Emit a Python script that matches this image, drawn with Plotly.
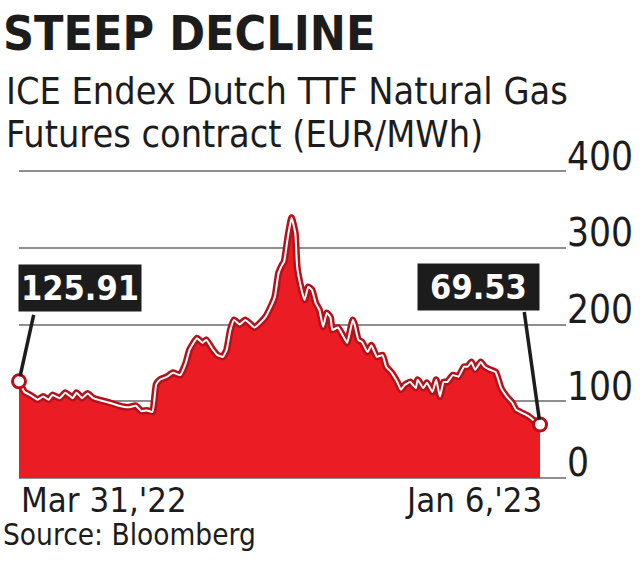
import plotly.graph_objects as go

# ---- data ----
dates = ["2022-03-31", "2022-04-03", "2022-04-06", "2022-04-10", "2022-04-13", "2022-04-16",
         "2022-04-18", "2022-04-22", "2022-04-25", "2022-04-29", "2022-05-01", "2022-05-04",
         "2022-05-07", "2022-05-10", "2022-05-14", "2022-05-19", "2022-05-24", "2022-05-29",
         "2022-06-02", "2022-06-05", "2022-06-08", "2022-06-11", "2022-06-13", "2022-06-15",
         "2022-06-19", "2022-06-22", "2022-06-26", "2022-06-29", "2022-07-01", "2022-07-05",
         "2022-07-08", "2022-07-10", "2022-07-13", "2022-07-16", "2022-07-19", "2022-07-21",
         "2022-07-23", "2022-07-25", "2022-07-28", "2022-07-31", "2022-08-03", "2022-08-05",
         "2022-08-08", "2022-08-11", "2022-08-13", "2022-08-16", "2022-08-18", "2022-08-20",
         "2022-08-21", "2022-08-23", "2022-08-25", "2022-08-27", "2022-08-28", "2022-08-30",
         "2022-09-01", "2022-09-03", "2022-09-05", "2022-09-07", "2022-09-09", "2022-09-11",
         "2022-09-13", "2022-09-15", "2022-09-16", "2022-09-19", "2022-09-22", "2022-09-24",
         "2022-09-27", "2022-09-28", "2022-09-30", "2022-10-02", "2022-10-05", "2022-10-07",
         "2022-10-10", "2022-10-13", "2022-10-15", "2022-10-18", "2022-10-21", "2022-10-23",
         "2022-10-25", "2022-10-28", "2022-10-31", "2022-11-01", "2022-11-04", "2022-11-06",
         "2022-11-09", "2022-11-11", "2022-11-13", "2022-11-15", "2022-11-17", "2022-11-20",
         "2022-11-23", "2022-11-26", "2022-11-28", "2022-11-30", "2022-12-02", "2022-12-05",
         "2022-12-07", "2022-12-10", "2022-12-13", "2022-12-14", "2022-12-16", "2022-12-19",
         "2022-12-22", "2022-12-24", "2022-12-27", "2022-12-31", "2023-01-02", "2023-01-06"]

prices = [125.91, 112, 108, 102, 106, 102,
          108, 104, 111, 104, 111, 104,
          110, 104, 101, 98, 94, 92,
          94, 87, 88, 86, 122, 128,
          132, 137, 134, 150, 167, 182,
          176, 180, 169, 160, 158, 167,
          193, 206, 200, 206, 200, 196,
          202, 210, 219, 236, 267, 278,
          282, 314, 339, 319, 275, 249,
          232, 249, 245, 228, 219, 197,
          215, 209, 193, 196, 184, 176,
          206, 200, 180, 177, 164, 173,
          158, 160, 145, 137, 125, 115,
          121, 125, 117, 128, 117, 124,
          112, 128, 106, 125, 125, 134,
          132, 145, 145, 151, 141, 151,
          145, 141, 138, 132, 117, 106,
          98, 89, 85, 80, 76, 69.53]

y_ticks = [0, 100, 200, 300, 400]
y_range = [-4, 404]
x_range = ["2022-03-31", "2023-01-20"]
start_label = "Mar 31,'22"
end_label = "Jan 6,'23"

title_text = "STEEP DECLINE"
sub1 = "ICE Endex Dutch TTF Natural Gas"
sub2 = "Futures contract (EUR/MWh)"
source_text = "Source: Bloomberg"

# ---- styles ----
NARROW = "Liberation Sans Narrow, DejaVu Sans Condensed, sans-serif"
RED = "#ec1c24"
DARK = "#b3121b"
INK = "#1c1c1c"

fig = go.Figure()

fig.add_trace(go.Scatter(
    x=dates, y=prices, mode="lines", fill="tozeroy", fillcolor=RED,
    line=dict(color=DARK, width=7, shape="spline", smoothing=0.4),
    hoverinfo="skip", cliponaxis=False))
fig.add_trace(go.Scatter(
    x=dates, y=prices, mode="lines",
    line=dict(color="white", width=2, shape="spline", smoothing=0.4),
    hoverinfo="skip", cliponaxis=False))
fig.add_trace(go.Scatter(
    x=[dates[0], dates[-1]], y=[prices[0], prices[-1]], mode="markers",
    marker=dict(size=13, color="white", line=dict(color=DARK, width=3)),
    hoverinfo="skip", cliponaxis=False))

PLOT_LEFT, PLOT_RIGHT = 19, 566
PLOT_TOP, PLOT_BOTTOM = 168, 481
PW = PLOT_RIGHT - PLOT_LEFT
PH = PLOT_BOTTOM - PLOT_TOP


def px(pix):
    return (pix - PLOT_LEFT) / PW


def py(pix):
    return (PLOT_BOTTOM - pix) / PH


ann = []
# titles
ann.append(dict(text=title_text, xref="paper", yref="paper", x=px(1), y=py(3),
                xanchor="left", yanchor="top", showarrow=False,
                font=dict(family=NARROW, size=48, color=INK, weight="bold")))
ann.append(dict(text=sub1, xref="paper", yref="paper", x=px(4), y=py(67),
                xanchor="left", yanchor="top", showarrow=False,
                font=dict(family=NARROW, size=37.5, color=INK)))
ann.append(dict(text=sub2, xref="paper", yref="paper", x=px(4), y=py(110),
                xanchor="left", yanchor="top", showarrow=False,
                font=dict(family=NARROW, size=37.5, color=INK)))
# x end labels
ann.append(dict(text=start_label, xref="x", yref="paper", x=dates[0], y=py(478),
                xanchor="left", yanchor="top", showarrow=False,
                font=dict(family=NARROW, size=34.5, color=INK)))
ann.append(dict(text=end_label, xref="x", yref="paper", x=dates[-1], y=py(478),
                xanchor="right", yanchor="top", xshift=4, showarrow=False,
                font=dict(family=NARROW, size=34.5, color=INK)))
ann.append(dict(text=source_text, xref="paper", yref="paper", x=px(1), y=py(516),
                xanchor="left", yanchor="top", showarrow=False,
                font=dict(family=NARROW, size=29.5, color=INK)))
# value callouts: pointers
ann.append(dict(text="", x=dates[0], y=prices[0], xref="x", yref="y",
                showarrow=True, arrowhead=0, arrowwidth=3.5, arrowcolor=INK,
                ax=15, ay=-68, standoff=5))
ann.append(dict(text="", x=dates[-1], y=prices[-1], xref="x", yref="y",
                showarrow=True, arrowhead=0, arrowwidth=3.5, arrowcolor=INK,
                ax=-16, ay=-114, standoff=5))
# value callouts: boxes
ann.append(dict(text=f"{prices[0]:.2f}", xref="paper", yref="paper",
                x=px(18), y=py(312), xanchor="left", yanchor="bottom",
                width=122, height=46, bgcolor=INK, borderpad=0, showarrow=False,
                font=dict(family=NARROW, size=34, color="white", weight="bold")))
ann.append(dict(text=f"{prices[-1]:.2f}", xref="paper", yref="paper",
                x=px(417), y=py(311), xanchor="left", yanchor="bottom",
                width=121, height=46, bgcolor=INK, borderpad=0, showarrow=False,
                font=dict(family=NARROW, size=34, color="white", weight="bold")))

fig.update_layout(
    width=640, height=564,
    margin=dict(l=PLOT_LEFT, r=640 - PLOT_RIGHT, t=PLOT_TOP, b=564 - PLOT_BOTTOM, pad=0),
    paper_bgcolor="white", plot_bgcolor="white",
    showlegend=False,
    annotations=ann,
    xaxis=dict(range=x_range, type="date", showgrid=False, zeroline=False,
               showticklabels=False, ticks="", showline=False, fixedrange=True,
               automargin=False),
    yaxis=dict(range=y_range, tickvals=y_ticks, side="right",
               ticklabelposition="outside", ticklabelshift=-15, ticklabelstandoff=0,
               ticks="", ticklen=0,
               showgrid=True, gridcolor="#8f8f8f", gridwidth=1.5,
               zeroline=False, showline=False, automargin=False,
               tickfont=dict(family=NARROW, size=38.5, color=INK), fixedrange=True),
)

fig.write_html("out.html", config={"displayModeBar": False},
               post_script="document.body.style.margin='0';")
